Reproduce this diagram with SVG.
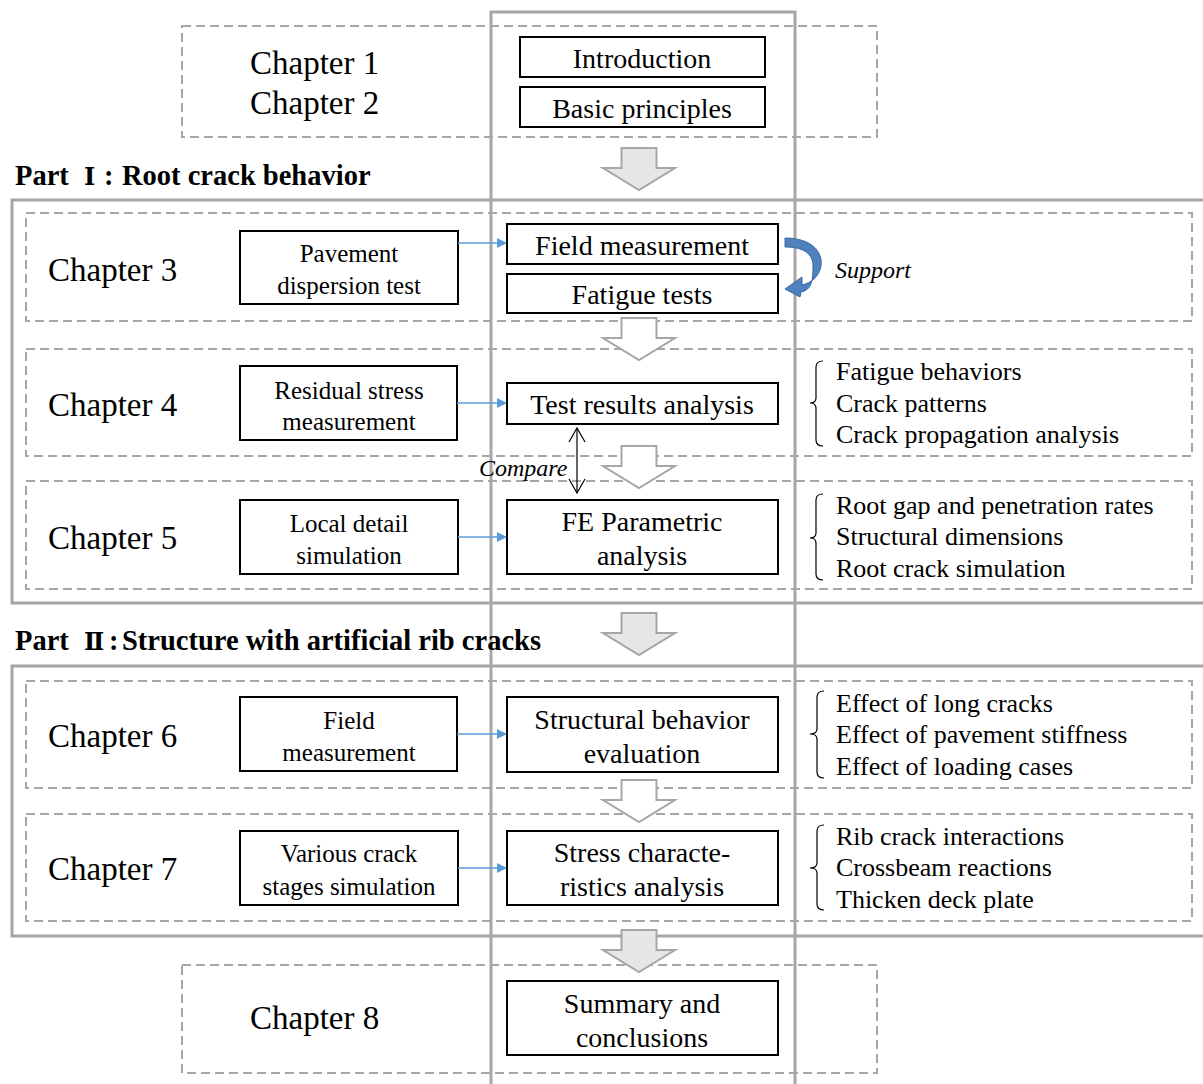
<svg xmlns="http://www.w3.org/2000/svg" width="1203" height="1084" viewBox="0 0 1203 1084">
<style>
text{font-family:"Liberation Serif","Times New Roman",serif;fill:#000}
.dash{fill:none;stroke:#a6a6a6;stroke-width:2;stroke-dasharray:9 5}
.part{fill:none;stroke:#a6a6a6;stroke-width:3}
.box{fill:#fff;stroke:#000;stroke-width:2}
.ch{font-size:33px}
.bt{font-size:28px;text-anchor:middle}
.st{font-size:25px;text-anchor:middle}
.li{font-size:26px}
.pt{font-size:28.5px;font-weight:bold}
.it{font-size:24px;font-style:italic}
.big{fill:#e6e6e6;stroke:#a6a6a6;stroke-width:2}
.hol{fill:#fff;stroke:#a6a6a6;stroke-width:2}
.blue{stroke:#5b9bd5;stroke-width:1.5;fill:none}
.brace{fill:none;stroke:#000;stroke-width:1.2}
</style>
<defs>
<marker id="ba" markerWidth="10" markerHeight="10" refX="9" refY="5" orient="auto" markerUnits="userSpaceOnUse">
<path d="M0,0 L10,5 L0,10 Z" fill="#5b9bd5"/>
</marker>
<path id="bigarrow" d="M621.5,0 H656.5 V20 H675 L639,42 L603,20 H621.5 Z"/>
</defs>

<!-- frames -->
<g id="frames">
<rect class="dash" x="182" y="26" width="695" height="111"/>
<rect class="part" x="12" y="200" width="1200" height="403"/>
<rect class="dash" x="26" y="213" width="1166" height="108"/>
<rect class="dash" x="26" y="349" width="1166" height="107"/>
<rect class="dash" x="26" y="481" width="1166" height="108"/>
<rect class="part" x="12" y="666" width="1200" height="270"/>
<rect class="dash" x="26" y="681" width="1166" height="107"/>
<rect class="dash" x="26" y="814" width="1166" height="107"/>
<rect class="dash" x="182" y="965" width="695" height="108"/>
<rect class="part" x="491" y="12" width="304" height="1085"/>
</g>

<!-- labels -->
<g id="labels">
<text class="ch" x="250" y="74">Chapter 1</text>
<text class="ch" x="250" y="114">Chapter 2</text>
<text class="pt" y="185"><tspan x="15">Part</tspan><tspan x="84" font-family="DejaVu Serif,'Noto Sans CJK SC',serif" font-size="24">Ⅰ</tspan><tspan x="104">:</tspan><tspan x="122">Root crack behavior</tspan></text>
<text class="ch" x="48" y="281">Chapter 3</text>
<text class="ch" x="48" y="416">Chapter 4</text>
<text class="ch" x="48" y="549">Chapter 5</text>
<text class="pt" y="650"><tspan x="15">Part</tspan><tspan x="84" font-family="DejaVu Serif,'Noto Sans CJK SC',serif" font-size="24">Ⅱ</tspan><tspan x="109">:</tspan><tspan x="122">Structure with artificial rib cracks</tspan></text>
<text class="ch" x="48" y="747">Chapter 6</text>
<text class="ch" x="48" y="880">Chapter 7</text>
<text class="ch" x="250" y="1029">Chapter 8</text>
</g>

<!-- big flow arrows -->
<g id="flow-arrows">
<use href="#bigarrow" class="big" transform="translate(0,148)"/>
<use href="#bigarrow" class="hol" transform="translate(0,318)"/>
<use href="#bigarrow" class="hol" transform="translate(0,446)"/>
<use href="#bigarrow" class="big" transform="translate(0,613)"/>
<use href="#bigarrow" class="hol" transform="translate(0,780)"/>
<use href="#bigarrow" class="big" transform="translate(0,930)"/>
</g>

<!-- nodes -->
<g id="n-intro"><rect class="box" x="520" y="37" width="245" height="40"/><text class="bt" x="642" y="68">Introduction</text></g>
<g id="n-basic"><rect class="box" x="520" y="87" width="245" height="40"/><text class="bt" x="642" y="118">Basic principles</text></g>

<g id="n-pavement"><rect class="box" x="240" y="231" width="218" height="73"/><text class="st" x="349" y="262">Pavement</text><text class="st" x="349" y="294">dispersion test</text></g>
<g id="n-field"><rect class="box" x="507" y="224" width="271" height="40"/><text class="bt" x="642" y="255">Field measurement</text></g>
<g id="n-fatigue"><rect class="box" x="507" y="274" width="271" height="39"/><text class="bt" x="642" y="304">Fatigue tests</text></g>

<g id="n-residual"><rect class="box" x="240" y="366" width="217" height="74"/><text class="st" x="349" y="399">Residual stress</text><text class="st" x="349" y="430">measurement</text></g>
<g id="n-testres"><rect class="box" x="507" y="383" width="271" height="41"/><text class="bt" x="642" y="414">Test results analysis</text></g>

<g id="n-local"><rect class="box" x="240" y="500" width="218" height="74"/><text class="st" x="349" y="532">Local detail</text><text class="st" x="349" y="564">simulation</text></g>
<g id="n-fe"><rect class="box" x="507" y="500" width="271" height="74"/><text class="bt" x="642" y="531">FE Parametric</text><text class="bt" x="642" y="565">analysis</text></g>

<g id="n-field6"><rect class="box" x="240" y="697" width="217" height="74"/><text class="st" x="349" y="729">Field</text><text class="st" x="349" y="761">measurement</text></g>
<g id="n-struct"><rect class="box" x="507" y="697" width="271" height="75"/><text class="bt" x="642" y="729">Structural behavior</text><text class="bt" x="642" y="763">evaluation</text></g>

<g id="n-various"><rect class="box" x="240" y="831" width="218" height="74"/><text class="st" x="349" y="862">Various crack</text><text class="st" x="349" y="895">stages simulation</text></g>
<g id="n-stress"><rect class="box" x="507" y="831" width="271" height="74"/><text class="bt" x="642" y="862">Stress characte-</text><text class="bt" x="642" y="896">ristics analysis</text></g>

<g id="n-summary"><rect class="box" x="507" y="981" width="271" height="74"/><text class="bt" x="642" y="1013">Summary and</text><text class="bt" x="642" y="1047">conclusions</text></g>

<!-- lists -->
<g id="list4"><path class="brace" d="M823,361 Q816,361 816,367 L816,398 Q816,403 810,403 Q816,403 816,408 L816,440 Q816,446 823,446"/>
<text class="li" x="836" y="380">Fatigue behaviors</text><text class="li" x="836" y="412">Crack patterns</text><text class="li" x="836" y="443">Crack propagation analysis</text></g>
<g id="list5"><path class="brace" d="M823,494 Q816,494 816,500 L816,533 Q816,538 810,538 Q816,538 816,543 L816,574 Q816,580 823,580"/>
<text class="li" x="836" y="514">Root gap and penetration rates</text><text class="li" x="836" y="545">Structural dimensions</text><text class="li" x="836" y="577">Root crack simulation</text></g>
<g id="list6"><path class="brace" d="M824,691 Q817,691 817,697 L817,729 Q817,734 810,734 Q817,734 817,739 L817,772 Q817,778 824,778"/>
<text class="li" x="836" y="712">Effect of long cracks</text><text class="li" x="836" y="743">Effect of pavement stiffness</text><text class="li" x="836" y="775">Effect of loading cases</text></g>
<g id="list7"><path class="brace" d="M824,825 Q817,825 817,831 L817,863 Q817,868 810,868 Q817,868 817,873 L817,904 Q817,910 824,910"/>
<text class="li" x="836" y="845">Rib crack interactions</text><text class="li" x="836" y="876">Crossbeam reactions</text><text class="li" x="836" y="908">Thicken deck plate</text></g>

<!-- connectors -->
<g id="connectors">
<line class="blue" x1="458" y1="243" x2="506" y2="243" marker-end="url(#ba)"/>
<line class="blue" x1="457" y1="403" x2="506" y2="403" marker-end="url(#ba)"/>
<line class="blue" x1="458" y1="537" x2="506" y2="537" marker-end="url(#ba)"/>
<line class="blue" x1="457" y1="734" x2="506" y2="734" marker-end="url(#ba)"/>
<line class="blue" x1="458" y1="868" x2="506" y2="868" marker-end="url(#ba)"/>
<g id="compare">
<line x1="577" y1="429" x2="577" y2="492" stroke="#000" stroke-width="1.2"/>
<path d="M569,442 L577,428 L585,442 M569,479 L577,493 L585,479" fill="none" stroke="#000" stroke-width="1.2"/>
<text class="it" x="479" y="476">Compare</text>
</g>
<g id="support">
<path d="M785,238 C812,238 823,252 821,266 C819,277 811,283 802,285 L802,277 L785,289 L800,297 L801,292 C812,290 813,280 813,266 C813,254 804,247 785,247 Z" fill="#4f81bd" stroke="#3a6ca6" stroke-width="1"/>
<text class="it" x="835" y="278">Support</text>
</g>
</g>
</svg>
